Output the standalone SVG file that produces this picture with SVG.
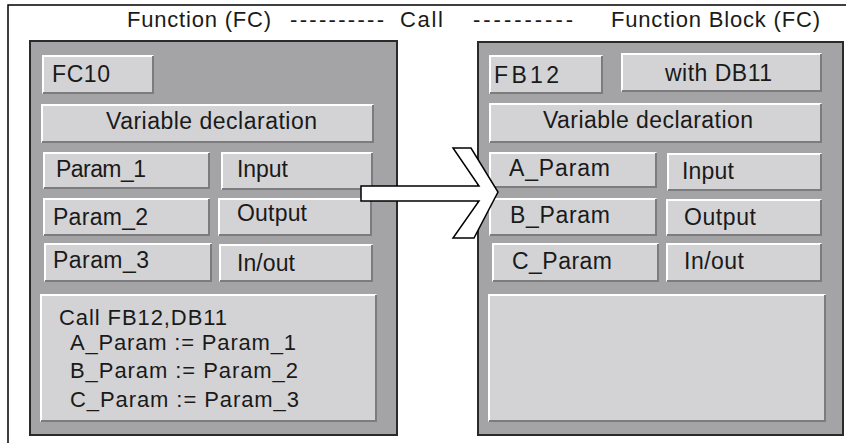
<svg xmlns="http://www.w3.org/2000/svg" width="846" height="443" viewBox="0 0 846 443">
<style>
.bg{fill:#ffffff}
.frame{fill:none;stroke:#000;stroke-width:1.5}
.panel{fill:#a4a4a6;stroke:#2a2a2a;stroke-width:2}
.box{fill:#d3d3d5}
.hl{fill:none;stroke:#ffffff;stroke-width:2}
.sh{fill:none;stroke:#7c7c7e;stroke-width:2}
text{font-family:"Liberation Sans",Arial,sans-serif;fill:#1a1a1a}
.hdr{font-size:22px}
.lbl{font-size:23px}
.code{font-size:22px}
.arrow{fill:#ffffff;stroke:#000;stroke-width:1.5;stroke-linejoin:miter}
</style>
<rect class="bg" x="0" y="0" width="846" height="443"/>
<rect class="frame" x="8" y="5" width="850" height="450"/>
<g id="header">
<text class="hdr" x="127" y="27" textLength="144" lengthAdjust="spacing">Function (FC)</text>
<text class="hdr" x="290" y="27" textLength="94" lengthAdjust="spacing">----------</text>
<text class="hdr" x="400" y="27" textLength="43" lengthAdjust="spacing">Call</text>
<text class="hdr" x="473" y="27" textLength="100" lengthAdjust="spacing">----------</text>
<text class="hdr" x="611" y="27" textLength="209" lengthAdjust="spacing">Function Block (FC)</text>
</g>
<g id="fc-panel">
<rect class="panel" x="30" y="41" width="367" height="394"/>
<g id="fc10"><rect class="box" x="42" y="55" width="112" height="39"/><polyline class="hl" points="43,93 43,56 153,56"/><polyline class="sh" points="43,93 153,93 153,56"/><text class="lbl" x="52" y="82" textLength="58" lengthAdjust="spacing">FC10</text></g>
<g id="fc-var"><rect class="box" x="41" y="104" width="333" height="39"/><polyline class="hl" points="42,142 42,105 373,105"/><polyline class="sh" points="42,142 373,142 373,105"/><text class="lbl" x="106" y="129" textLength="211" lengthAdjust="spacing">Variable declaration</text></g>
<g id="param1"><rect class="box" x="43" y="152" width="167" height="37"/><polyline class="hl" points="44,188 44,153 209,153"/><polyline class="sh" points="44,188 209,188 209,153"/><text class="lbl" x="56" y="177" textLength="90" lengthAdjust="spacing">Param_1</text></g>
<g id="fc-input"><rect class="box" x="221" y="152" width="152" height="38"/><polyline class="hl" points="222,189 222,153 372,153"/><polyline class="sh" points="222,189 372,189 372,153"/><text class="lbl" x="237" y="177" textLength="51" lengthAdjust="spacing">Input</text></g>
<g id="param2"><rect class="box" x="43" y="198" width="167" height="38"/><polyline class="hl" points="44,235 44,199 209,199"/><polyline class="sh" points="44,235 209,235 209,199"/><text class="lbl" x="53" y="225" textLength="95" lengthAdjust="spacing">Param_2</text></g>
<g id="fc-output"><rect class="box" x="218" y="198" width="154" height="38"/><polyline class="hl" points="219,235 219,199 371,199"/><polyline class="sh" points="219,235 371,235 371,199"/><text class="lbl" x="237" y="221" textLength="70" lengthAdjust="spacing">Output</text></g>
<g id="param3"><rect class="box" x="44" y="243" width="168" height="39"/><polyline class="hl" points="45,281 45,244 211,244"/><polyline class="sh" points="45,281 211,281 211,244"/><text class="lbl" x="53" y="268" textLength="96" lengthAdjust="spacing">Param_3</text></g>
<g id="fc-inout"><rect class="box" x="219" y="244" width="154" height="38"/><polyline class="hl" points="220,281 220,245 372,245"/><polyline class="sh" points="220,281 372,281 372,245"/><text class="lbl" x="237" y="271" textLength="58" lengthAdjust="spacing">In/out</text></g>
<g id="fc-call"><rect class="box" x="40" y="294" width="337" height="128"/><polyline class="hl" points="41,421 41,295 376,295"/><polyline class="sh" points="41,421 376,421 376,295"/>
<text class="code" x="59" y="325" textLength="168" lengthAdjust="spacing">Call FB12,DB11</text>
<text class="code" x="70" y="350" textLength="226" lengthAdjust="spacing">A_Param := Param_1</text>
<text class="code" x="70" y="378" textLength="228" lengthAdjust="spacing">B_Param := Param_2</text>
<text class="code" x="70" y="407" textLength="229" lengthAdjust="spacing">C_Param := Param_3</text></g>
</g>
<g id="fb-panel">
<rect class="panel" x="478" y="42" width="365" height="393"/>
<g id="fb12"><rect class="box" x="489" y="55" width="114" height="39"/><polyline class="hl" points="490,93 490,56 602,56"/><polyline class="sh" points="490,93 602,93 602,56"/><text class="lbl" x="494" y="83" textLength="65" lengthAdjust="spacing">FB12</text></g>
<g id="db11"><rect class="box" x="621" y="53" width="201" height="39"/><polyline class="hl" points="622,91 622,54 821,54"/><polyline class="sh" points="622,91 821,91 821,54"/><text class="lbl" x="665" y="81" textLength="107" lengthAdjust="spacing">with DB11</text></g>
<g id="fb-var"><rect class="box" x="489" y="103" width="333" height="40"/><polyline class="hl" points="490,142 490,104 821,104"/><polyline class="sh" points="490,142 821,142 821,104"/><text class="lbl" x="543" y="128" textLength="210" lengthAdjust="spacing">Variable declaration</text></g>
<g id="a-param"><rect class="box" x="489" y="152" width="168" height="36"/><polyline class="hl" points="490,187 490,153 656,153"/><polyline class="sh" points="490,187 656,187 656,153"/><text class="lbl" x="509" y="176" textLength="101" lengthAdjust="spacing">A_Param</text></g>
<g id="fb-input"><rect class="box" x="667" y="153" width="155" height="38"/><polyline class="hl" points="668,190 668,154 821,154"/><polyline class="sh" points="668,190 821,190 821,154"/><text class="lbl" x="682" y="179" textLength="52" lengthAdjust="spacing">Input</text></g>
<g id="b-param"><rect class="box" x="489" y="198" width="168" height="38"/><polyline class="hl" points="490,235 490,199 656,199"/><polyline class="sh" points="490,235 656,235 656,199"/><text class="lbl" x="510" y="223" textLength="100" lengthAdjust="spacing">B_Param</text></g>
<g id="fb-output"><rect class="box" x="666" y="199" width="156" height="37"/><polyline class="hl" points="667,235 667,200 821,200"/><polyline class="sh" points="667,235 821,235 821,200"/><text class="lbl" x="684" y="225" textLength="72" lengthAdjust="spacing">Output</text></g>
<g id="c-param"><rect class="box" x="492" y="243" width="167" height="39"/><polyline class="hl" points="493,281 493,244 658,244"/><polyline class="sh" points="493,281 658,281 658,244"/><text class="lbl" x="512" y="269" textLength="100" lengthAdjust="spacing">C_Param</text></g>
<g id="fb-inout"><rect class="box" x="666" y="243" width="156" height="39"/><polyline class="hl" points="667,281 667,244 821,244"/><polyline class="sh" points="667,281 821,281 821,244"/><text class="lbl" x="684" y="269" textLength="60" lengthAdjust="spacing">In/out</text></g>
<g id="fb-body"><rect class="box" x="488" y="294" width="338" height="128"/><polyline class="hl" points="489,421 489,295 825,295"/><polyline class="sh" points="489,421 825,421 825,295"/></g>
</g>
<g id="connectors">
<polygon class="arrow" points="361,186 479,186 453,148 471,148 498,192 474,238 453,238 479,201 361,201"/>
</g>
</svg>
